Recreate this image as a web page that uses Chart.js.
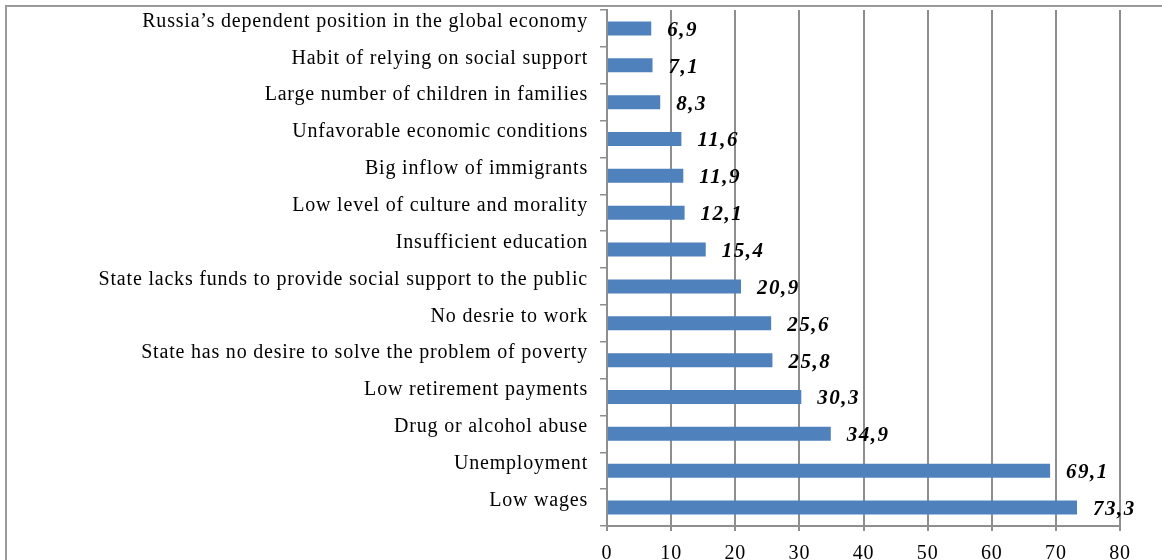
<!DOCTYPE html>
<html>
<head>
<meta charset="utf-8">
<script src="https://cdn.jsdelivr.net/npm/chart.js@4/dist/chart.umd.min.js"></script>
<style>
  html, body { margin: 0; padding: 0; background: #fff; }
  #c { display: block; }
</style>
</head>
<body>
<canvas id="c" width="1162" height="560"></canvas>
<script>
const categories = [
  "Russia’s dependent position in the global economy",
  "Habit of relying on social support",
  "Large number of children in families",
  "Unfavorable economic conditions",
  "Big inflow of immigrants",
  "Low level of culture and morality",
  "Insufficient education",
  "State lacks funds to provide social support to the public",
  "No desrie to work",
  "State has no desire to solve the problem of poverty",
  "Low retirement payments",
  "Drug or alcohol abuse",
  "Unemployment",
  "Low wages"
];
const values = [6.9, 7.1, 8.3, 11.6, 11.9, 12.1, 15.4, 20.9, 25.6, 25.8, 30.3, 34.9, 69.1, 73.3];
const xTicks = [0, 10, 20, 30, 40, 50, 60, 70, 80];

const SERIF = "'Liberation Serif', 'Times New Roman', serif";

const spacingPlugin = {
  id: 'spacing',
  beforeLayout(chart) { chart.ctx.letterSpacing = '0.8px'; },
  beforeDraw(chart) {
    const ctx = chart.ctx;
    ctx.letterSpacing = '0.8px';
    ctx.save();
    ctx.strokeStyle = '#9a9a9a';
    ctx.lineWidth = 2;
    ctx.strokeRect(6, 6, 3000, 3000);
    ctx.restore();
  }
};

const valueLabels = {
  id: 'valueLabels',
  afterDatasetsDraw(chart) {
    const ctx = chart.ctx;
    const meta = chart.getDatasetMeta(0);
    ctx.save();
    ctx.letterSpacing = '1.5px';
    ctx.font = "italic bold 21px " + SERIF;
    ctx.fillStyle = '#000';
    ctx.textAlign = 'left';
    ctx.textBaseline = 'middle';
    meta.data.forEach((bar, i) => {
      const txt = String(values[i]).replace('.', ',');
      ctx.fillText(txt, bar.x + 16, bar.y + 2);
    });
    ctx.restore();
  }
};

new Chart(document.getElementById('c'), {
  type: 'bar',
  data: {
    labels: categories,
    datasets: [{
      data: values,
      backgroundColor: '#4f81bd',
      borderWidth: 0,
      categoryPercentage: 1,
      barPercentage: 0.38
    }]
  },
  options: {
    indexAxis: 'y',
    responsive: false,
    animation: false,
    devicePixelRatio: 1,
    layout: { padding: { top: 10, right: 42, left: 0, bottom: 0 } },
    plugins: { legend: { display: false }, tooltip: { enabled: false } },
    scales: {
      x: {
        min: 0, max: 80,
        afterBuildTicks(scale) { scale.ticks = xTicks.map(v => ({ value: v })); },
        afterFit(scale) { scale.height = 34; },
        grid: { color: '#8e8e8e', lineWidth: 2, tickLength: 5, drawTicks: true },
        border: { color: '#8e8e8e', width: 2 },
        ticks: { font: { family: SERIF, size: 20 }, color: '#000', padding: 11, maxRotation: 0 }
      },
      y: {
        afterFit(scale) { scale.width = 607; scale.paddingTop = 0; scale.paddingBottom = 0; },
        grid: { drawOnChartArea: false, drawTicks: true, tickLength: 7, color: '#8e8e8e', lineWidth: 1.5, offset: true },
        border: { color: '#8e8e8e', width: 2 },
        ticks: { font: { family: SERIF, size: 20 }, color: '#000', padding: 12, autoSkip: false, labelOffset: -7 }
      }
    }
  },
  plugins: [spacingPlugin, valueLabels]
});
</script>
</body>
</html>
